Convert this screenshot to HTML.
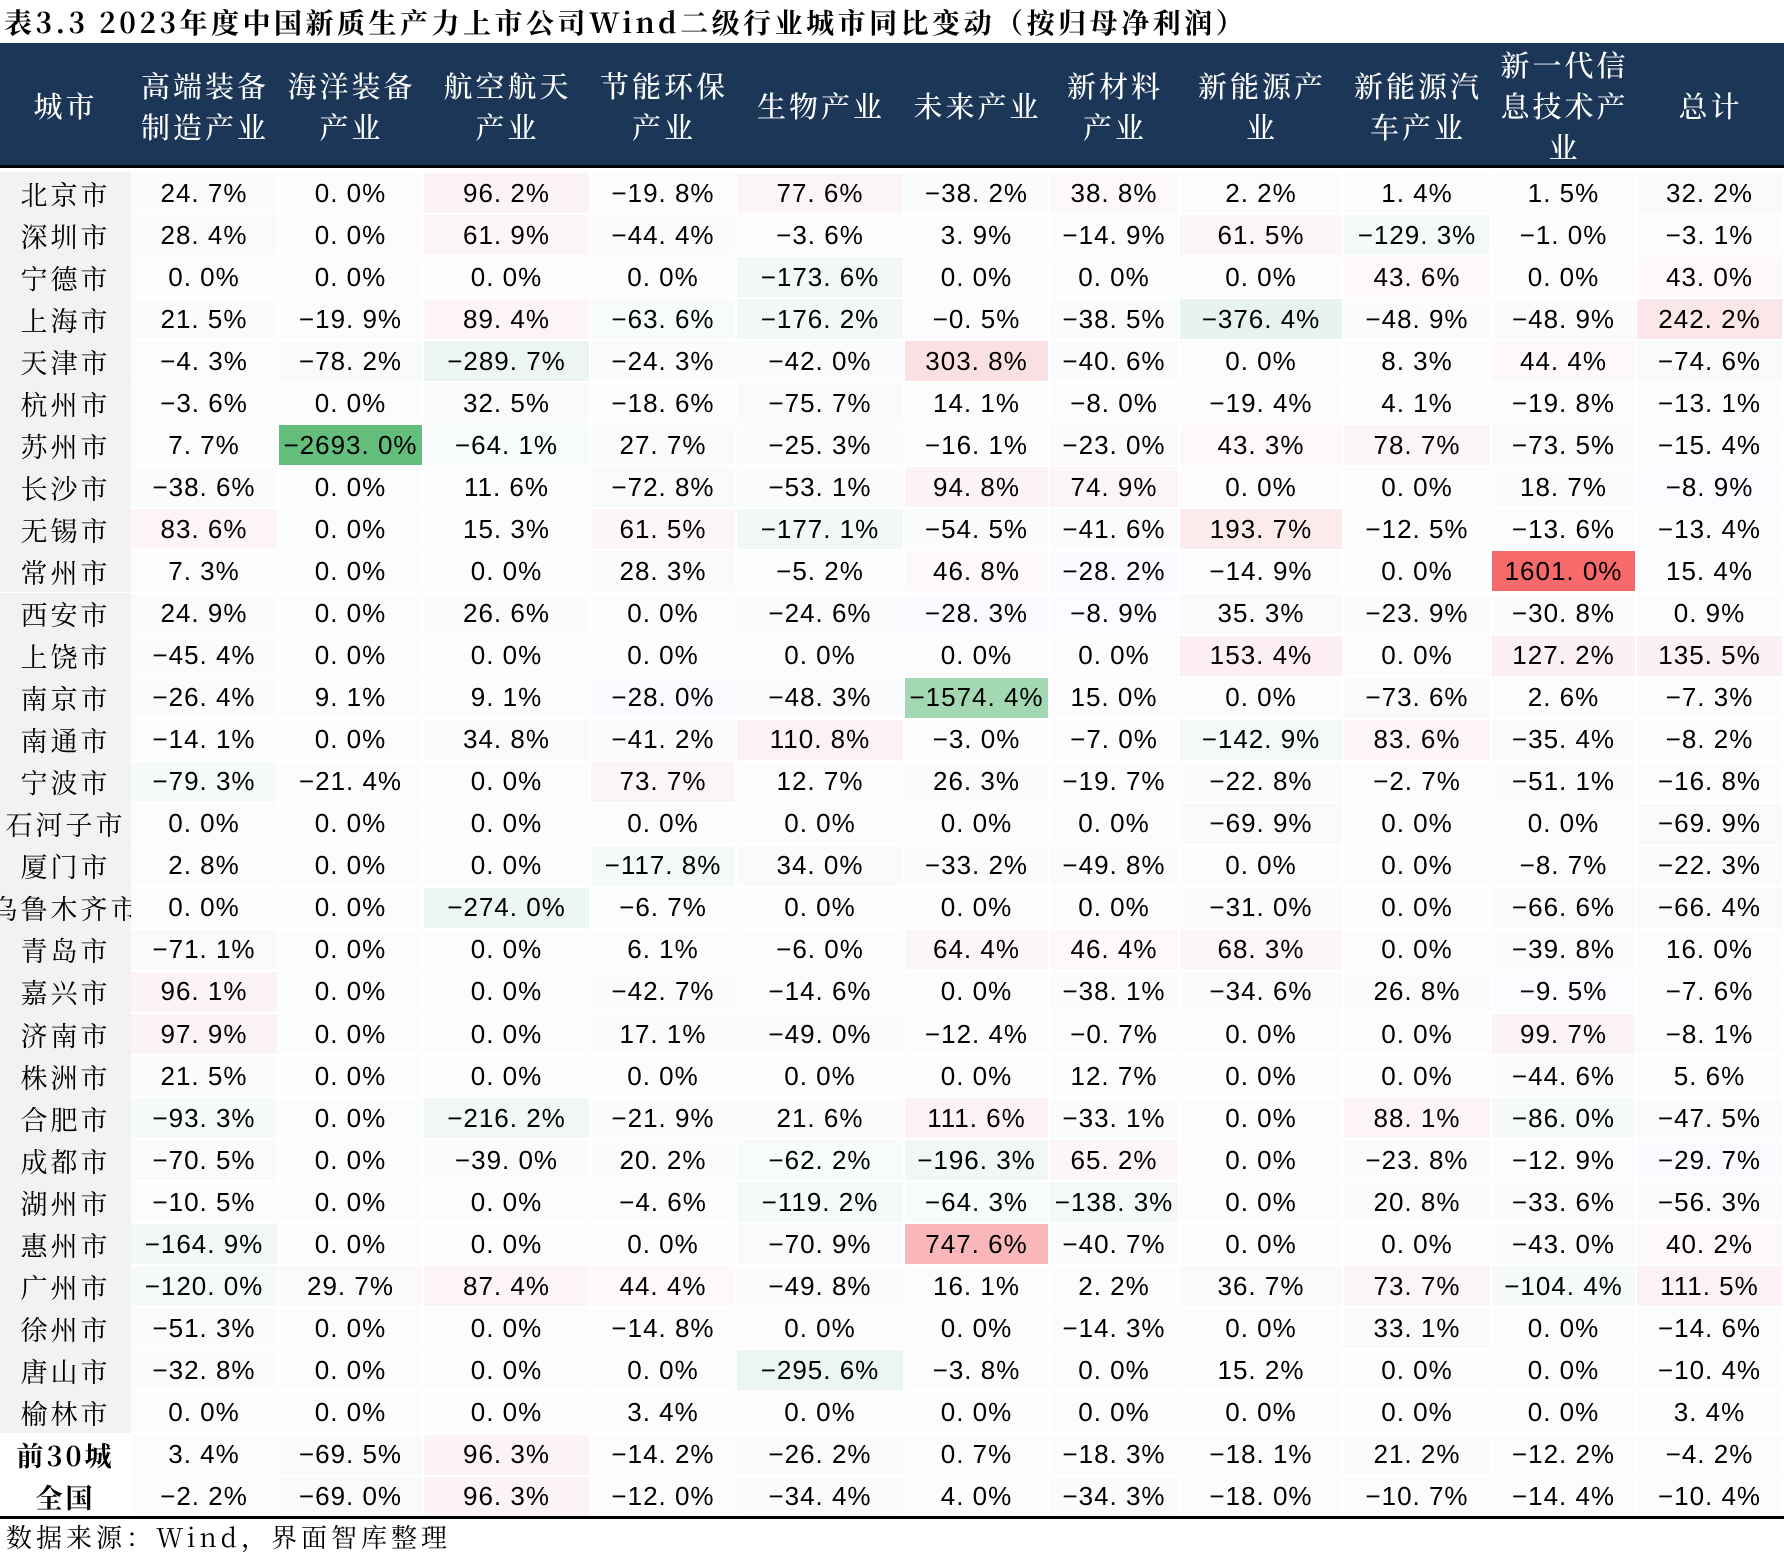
<!DOCTYPE html>
<html><head><meta charset="utf-8">
<style>
body{margin:0;width:1784px;height:1557px;background:#fff;position:relative;overflow:hidden;font-family:"Liberation Sans","Noto Sans CJK SC",sans-serif;}
.a{position:absolute;box-sizing:border-box;display:flex;align-items:center;justify-content:center;white-space:nowrap;overflow:hidden;}
#title{position:absolute;left:4px;top:2px;font-size:28px;font-weight:bold;font-family:"Noto Serif CJK SC","Noto Sans CJK SC",serif;color:#000;letter-spacing:3.5px;}
#foot{position:absolute;left:6px;top:1518px;font-size:26px;font-family:"Noto Serif CJK SC","Noto Sans CJK SC",serif;letter-spacing:4px;}
.h{color:#fff;font-size:29px;font-weight:500;font-family:"Noto Serif CJK SC","Noto Sans CJK SC",serif;text-align:center;line-height:41px;letter-spacing:3px;white-space:normal;}
.c{font-size:26px;color:#000;letter-spacing:1px;}
.city{font-size:27px;font-family:"Noto Serif CJK SC","Noto Sans CJK SC",serif;letter-spacing:3px;}
</style></head><body>
<div id="title">表3.3 2023年度中国新质生产力上市公司Wind二级行业城市同比变动（按归母净利润）</div>
<div id="tbl"></div>
<div id="foot">数据来源：Wind，界面智库整理</div>
<script>
const headers=["城市","高端装备<br>制造产业","海洋装备<br>产业","航空航天<br>产业","节能环保<br>产业","生物产业","未来产业","新材料<br>产业","新能源产<br>业","新能源汽<br>车产业","新一代信<br>息技术产<br>业","总计"];
const cities=["北京市","深圳市","宁德市","上海市","天津市","杭州市","苏州市","长沙市","无锡市","常州市","西安市","上饶市","南京市","南通市","宁波市","石河子市","厦门市","乌鲁木齐市","青岛市","嘉兴市","济南市","株洲市","合肥市","成都市","湖州市","惠州市","广州市","徐州市","唐山市","榆林市","前30城","全国"];
const values=[
[24.7,0,96.2,-19.8,77.6,-38.2,38.8,2.2,1.4,1.5,32.2],
[28.4,0,61.9,-44.4,-3.6,3.9,-14.9,61.5,-129.3,-1.0,-3.1],
[0,0,0,0,-173.6,0,0,0,43.6,0,43.0],
[21.5,-19.9,89.4,-63.6,-176.2,-0.5,-38.5,-376.4,-48.9,-48.9,242.2],
[-4.3,-78.2,-289.7,-24.3,-42.0,303.8,-40.6,0,8.3,44.4,-74.6],
[-3.6,0,32.5,-18.6,-75.7,14.1,-8.0,-19.4,4.1,-19.8,-13.1],
[7.7,-2693.0,-64.1,27.7,-25.3,-16.1,-23.0,43.3,78.7,-73.5,-15.4],
[-38.6,0,11.6,-72.8,-53.1,94.8,74.9,0,0,18.7,-8.9],
[83.6,0,15.3,61.5,-177.1,-54.5,-41.6,193.7,-12.5,-13.6,-13.4],
[7.3,0,0,28.3,-5.2,46.8,-28.2,-14.9,0,1601.0,15.4],
[24.9,0,26.6,0,-24.6,-28.3,-8.9,35.3,-23.9,-30.8,0.9],
[-45.4,0,0,0,0,0,0,153.4,0,127.2,135.5],
[-26.4,9.1,9.1,-28.0,-48.3,-1574.4,15.0,0,-73.6,2.6,-7.3],
[-14.1,0,34.8,-41.2,110.8,-3.0,-7.0,-142.9,83.6,-35.4,-8.2],
[-79.3,-21.4,0,73.7,12.7,26.3,-19.7,-22.8,-2.7,-51.1,-16.8],
[0,0,0,0,0,0,0,-69.9,0,0,-69.9],
[2.8,0,0,-117.8,34.0,-33.2,-49.8,0,0,-8.7,-22.3],
[0,0,-274.0,-6.7,0,0,0,-31.0,0,-66.6,-66.4],
[-71.1,0,0,6.1,-6.0,64.4,46.4,68.3,0,-39.8,16.0],
[96.1,0,0,-42.7,-14.6,0,-38.1,-34.6,26.8,-9.5,-7.6],
[97.9,0,0,17.1,-49.0,-12.4,-0.7,0,0,99.7,-8.1],
[21.5,0,0,0,0,0,12.7,0,0,-44.6,5.6],
[-93.3,0,-216.2,-21.9,21.6,111.6,-33.1,0,88.1,-86.0,-47.5],
[-70.5,0,-39.0,20.2,-62.2,-196.3,65.2,0,-23.8,-12.9,-29.7],
[-10.5,0,0,-4.6,-119.2,-64.3,-138.3,0,20.8,-33.6,-56.3],
[-164.9,0,0,0,-70.9,747.6,-40.7,0,0,-43.0,40.2],
[-120.0,29.7,87.4,44.4,-49.8,16.1,2.2,36.7,73.7,-104.4,111.5],
[-51.3,0,0,-14.8,0,0,-14.3,0,33.1,0,-14.6],
[-32.8,0,0,0,-295.6,-3.8,0,15.2,0,0,-10.4],
[0,0,0,3.4,0,0,0,0,0,0,3.4],
[3.4,-69.5,96.3,-14.2,-26.2,0.7,-18.3,-18.1,21.2,-12.2,-4.2],
[-2.2,-69.0,96.3,-12.0,-34.4,4.0,-34.3,-18.0,-10.7,-14.4,-10.4]];
const colX=[0,131,279,424,591,737,905,1050,1180,1344,1492,1637,1784];
const HEAD_TOP=43,HEAD_BOT=168,ROW_TOP=172,ROW_H=42.05;
const MAXP=1601,MAXN=2693;
function mix(a,b,t){return a.map((v,i)=>Math.round(v+(b[i]-v)*t));}
function color(v){
  const w=[252,252,255];
  if(v>0)return 'rgb('+mix(w,[248,105,107],Math.min(1,v/MAXP)).join(',')+')';
  if(v<0)return 'rgb('+mix(w,[99,190,123],Math.min(1,-v/MAXN)).join(',')+')';
  return 'rgb(252,252,255)';
}
function fmt(v){return (v<0?'−':'')+Math.abs(v).toFixed(1).replace('.','. ')+'%';}
const T=document.getElementById('tbl');
const hb=document.createElement('div');
hb.className='a';


hb.style.cssText=`left:0;top:${HEAD_TOP}px;width:1784px;height:${HEAD_BOT-HEAD_TOP}px;background:#1c3658;border-bottom:3px solid #000;`;
T.appendChild(hb);
headers.forEach((h,i)=>{
  const d=document.createElement('div');
  d.className='a h';
  
  
  d.style.cssText=`left:${colX[i]}px;top:${HEAD_TOP}px;width:${colX[i+1]-colX[i]}px;height:${HEAD_BOT-HEAD_TOP}px;`;
  d.innerHTML=h;T.appendChild(d);
});
cities.forEach((c,r)=>{
  const y=ROW_TOP+r*ROW_H;
  const d=document.createElement('div');
  d.className='a city';
  
  
  d.style.cssText=`left:0;top:${y}px;width:${colX[1]}px;height:${ROW_H}px;background:${r<30?'#f2f2f2':'#fff'};${r>=30?'font-weight:bold;':''}`;
  d.textContent=c;T.appendChild(d);
  values[r].forEach((v,k)=>{
    const e=document.createElement('div');
    e.className='a c';
    
    
    e.style.cssText=`left:${colX[k+1]}px;top:${y+1}px;width:${colX[k+2]-colX[k+1]-2}px;height:${ROW_H-2}px;background:${color(v)};`;
    e.textContent=fmt(v);T.appendChild(e);
  });
});
const bl=document.createElement('div');
bl.className='a';


bl.style.cssText=`left:0;top:${ROW_TOP+32*ROW_H-2}px;width:1784px;height:3px;background:#000;`;
T.appendChild(bl);
</script>
</body></html>
